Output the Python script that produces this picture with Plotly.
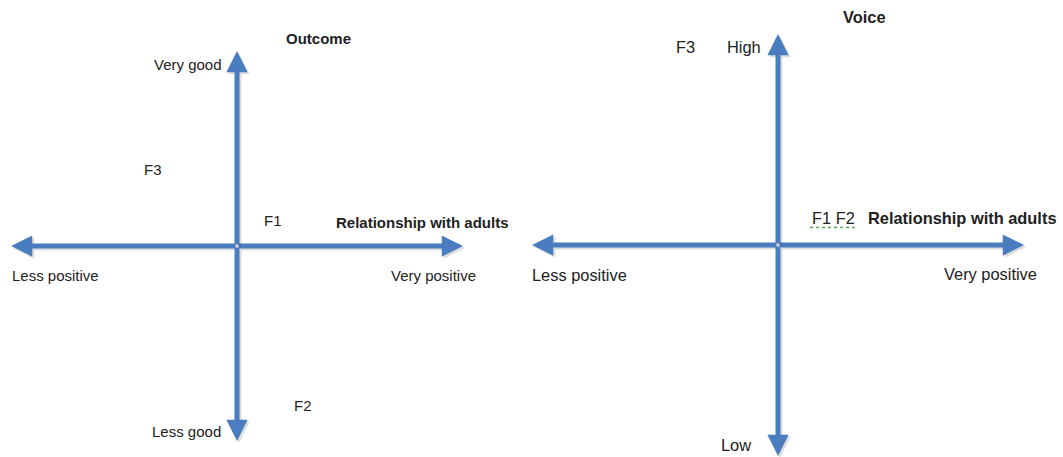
import plotly.graph_objects as go

# ---- data (conceptual positions, axes span -1..1) ----
# Left panel: Outcome vs Relationship with adults
left_title = "Outcome"
left_x_axis_label = "Relationship with adults"
left_x_ends = ["Less positive", "Very positive"]
left_y_ends = ["Less good", "Very good"]
left_points = ["F1", "F2", "F3"]
left_points_x = [0.16, 0.29, -0.37]
left_points_y = [0.13, -0.82, 0.39]

# Right panel: Voice vs Relationship with adults
right_title = "Voice"
right_x_axis_label = "Relationship with adults"
right_x_ends = ["Less positive", "Very positive"]
right_y_ends = ["Low", "High"]
right_points = ["F1 F2", "F3"]
right_points_x = [0.13, -0.378]
right_points_y = [0.128, 0.938]

ARROW = "#4a7dbf"
SHADOW = "rgba(0,0,0,0.13)"
TXT = "#222222"
FONT = "Liberation Sans, Arial, sans-serif"

fig = go.Figure()
W, H = 1063, 457
split = 530 / W

# panel geometry: origin pixel and pixel per unit
panels = [
    dict(xa="x", ya="y", dom=[0, split], ox=237, oy=246, sx=226, sy=195, px0=0, px1=530, fs=15),
    dict(xa="x2", ya="y2", dom=[split, 1], ox=778, oy=245, sx=246, sy=211, px0=530, px1=W, fs=16.4),
]

annotations = []
for p in panels:
    # axes arrows: from origin outward
    for (tx, ty) in [(1, 0), (-1, 0), (0, 1), (0, -1)]:
        for col, sh in [(SHADOW, 2), (ARROW, 0)]:
            annotations.append(dict(
                x=tx, y=ty, ax=0, ay=0, xref=p["xa"], yref=p["ya"],
                axref=p["xa"], ayref=p["ya"], text="", showarrow=True,
                arrowhead=2, arrowsize=0.85, arrowwidth=5, arrowcolor=col,
                standoff=0, startstandoff=0, xshift=sh, yshift=-sh,
            ))


def label(p, x, y, text, anchor="center", bold=False, size=None):
    annotations.append(dict(
        x=x, y=y, xref=p["xa"], yref=p["ya"], showarrow=False,
        text=f"<b>{text}</b>" if bold else text, xanchor=anchor, yanchor="middle",
        font=dict(family=FONT, size=size or p["fs"], color=TXT),
    ))


# Left panel texts
L, R = panels
label(L, 0.36, 1.062, left_title, bold=True)
label(L, 0.43, 0.12, left_x_axis_label, anchor="left", bold=True)
label(L, -1.004, -0.15, left_x_ends[0], anchor="left")
label(L, 0.87, -0.15, left_x_ends[1])
label(L, -0.062, -0.95, left_y_ends[0], anchor="right")
label(L, -0.058, 0.93, left_y_ends[1], anchor="right")
for t, x, y in zip(left_points, left_points_x, left_points_y):
    label(L, x, y, t)

# Right panel texts
label(R, 0.35, 1.081, right_title, bold=True)
label(R, 1.142, 0.128, right_x_axis_label, anchor="right", bold=True)
label(R, -1.008, -0.142, right_x_ends[0], anchor="left")
label(R, 0.862, -0.137, right_x_ends[1])
label(R, -0.171, -0.948, right_y_ends[0])
label(R, -0.061, 0.938, right_y_ends[1], anchor="right")
label(R, right_points_x[0], right_points_y[0], right_points[0], anchor="left")
label(R, right_points_x[1], right_points_y[1], right_points[1])

# spell-check squiggle under "F1 F2"
fig.add_shape(type="line", xref="x2", yref="y2",
              x0=right_points_x[0], x1=right_points_x[0] + 0.19,
              y0=right_points_y[0] - 0.045, y1=right_points_y[0] - 0.045,
              line=dict(color="#4caf50", width=1.5, dash="dot"))

# invisible traces to create axes
fig.add_trace(go.Scatter(x=[0], y=[0], xaxis="x", yaxis="y", mode="markers",
                         marker=dict(opacity=0), hoverinfo="skip", showlegend=False))
fig.add_trace(go.Scatter(x=[0], y=[0], xaxis="x2", yaxis="y2", mode="markers",
                         marker=dict(opacity=0), hoverinfo="skip", showlegend=False))

ax_common = dict(visible=False, fixedrange=True)
fig.update_layout(
    width=W, height=H, margin=dict(l=0, r=0, t=0, b=0),
    paper_bgcolor="white", plot_bgcolor="white", showlegend=False,
    annotations=annotations,
    xaxis=dict(domain=L["dom"], range=[(L["px0"] - L["ox"]) / L["sx"], (L["px1"] - L["ox"]) / L["sx"]], **ax_common),
    yaxis=dict(domain=[0, 1], range=[-(H - L["oy"]) / L["sy"], L["oy"] / L["sy"]], **ax_common),
    xaxis2=dict(domain=R["dom"], range=[(R["px0"] - R["ox"]) / R["sx"], (R["px1"] - R["ox"]) / R["sx"]], **ax_common),
    yaxis2=dict(domain=[0, 1], range=[-(H - R["oy"]) / R["sy"], R["oy"] / R["sy"]], anchor="x2", **ax_common),
)
fig.update_layout(xaxis2_anchor="y2")

fig.write_html("out.html", config={"displayModeBar": False},
               post_script="document.body.style.margin='0';document.body.style.overflow='hidden';")
